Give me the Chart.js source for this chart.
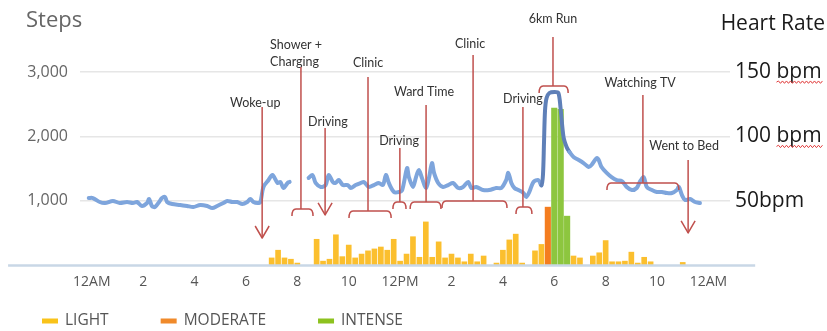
<!DOCTYPE html>
<html><head><meta charset="utf-8">
<script src="https://cdn.jsdelivr.net/npm/chart.js@4.4.1/dist/chart.umd.min.js"></script>
<style>html,body{margin:0;padding:0;background:#fff;}#wrap{width:827px;height:331px;}</style>
</head><body><div id="wrap"><canvas id="c" width="827" height="331"></canvas></div>
<script>
// ---------- DATA ----------
// steps per 15-minute bin, bin k plotted at hour k/4
const binSize = 0.25;
const steps = [
  0,0,0,0,0,0,0,0,0,0,0,0,0,0,0,0,0,0,0,0,0,0,0,0,0,0,0,0,
  110,230,110,90,30,0,0,400,60,90,470,130,310,110,170,220,250,280,230,400,
  60,170,440,120,670,120,360,110,170,110,50,170,50,140,0,30,230,390,480,30,0,
  220,320,900,2440,2420,760,140,110,0,140,190,380,50,50,60,200,30,120,50,
  0,0,0,0,40,0,0,0
];
const moderateBins = [71];
const intenseBins = [72,73,74];
const seriesNames = ['LIGHT','MODERATE','INTENSE'];

// heart rate (bpm) vs hour of day; null = watch off
const hrHours = [-0.12,0.04,0.31,0.51,0.82,1.09,1.37,1.60,1.76,1.95,2.15,2.23,2.34,2.46,2.62,2.73,2.85,2.93,3.13,3.44,3.71,3.95,4.22,4.49,4.69,4.88,5.12,5.27,5.47,5.66,5.86,6.05,6.17,6.29,6.45,6.56,6.68,6.88,7.03,7.23,7.34,7.46,7.62,7.70,8.00,8.44,8.59,8.71,8.91,9.10,9.22,9.38,9.49,9.61,9.77,9.96,10.08,10.27,10.47,10.59,10.78,10.98,11.17,11.33,11.45,11.56,11.76,11.95,12.08,12.27,12.34,12.50,12.62,12.73,12.85,13.01,13.13,13.24,13.32,13.48,13.67,13.87,14.06,14.26,14.45,14.65,14.77,14.96,15.23,15.47,15.74,15.94,16.13,16.21,16.33,16.45,16.60,16.80,16.91,17.03,17.19,17.38,17.50,17.56,17.60,17.64,17.70,17.81,18.01,18.16,18.24,18.36,18.48,18.59,18.75,18.95,19.14,19.34,19.45,19.65,19.73,19.84,20.04,20.23,20.43,20.63,20.82,21.02,21.21,21.33,21.48,21.60,21.80,21.99,22.19,22.38,22.58,22.77,22.85,22.97,23.09,23.28,23.48,23.67];
const hrBpm = [52.1,52.1,49.0,48.2,49.8,48.2,49.0,48.2,49.0,45.9,48.2,51.3,45.9,45.1,49.0,52.1,52.9,49.0,47.4,46.7,45.9,45.1,46.7,45.9,44.3,45.9,48.2,49.8,49.0,49.0,47.4,49.0,51.3,49.0,48.2,49.0,60.7,66.1,70.0,63.8,64.6,59.9,63.8,64.6,null,67.7,70.0,63.8,60.7,62.2,70.0,64.6,63.8,66.1,62.2,62.2,59.9,62.2,63.8,64.6,60.7,62.2,63.8,62.2,70.0,63.8,56.8,56.8,58.3,75.4,68.4,60.7,68.4,73.9,67.7,59.9,68.4,79.3,71.6,63.8,60.7,62.2,63.8,59.9,60.7,64.6,59.9,60.7,58.3,58.3,59.9,59.9,66.1,71.6,63.8,59.9,58.3,56.0,52.9,56.8,64.6,66.1,62.0,70.0,95.0,120.0,129.9,133.8,134.6,133.8,122.9,99.6,91.8,87.9,84.0,81.7,79.3,76.2,77.8,83.2,81.7,76.2,71.6,68.4,66.1,65.3,60.7,58.3,59.9,64.6,68.4,60.7,58.3,56.8,56.8,56.0,56.0,58.3,60.7,54.4,50.6,51.3,49.0,48.2];

const xTickHours = [0,2,4,6,8,10,12,14,16,18,20,22,24];
const xTickLabels = ['12AM','2','4','6','8','10','12PM','2','4','6','8','10','12AM'];
const stepTicks = [1000,2000,3000];
const stepTickLabels = ['1,000','2,000','3,000'];
const hrTicks = [50,100,150];
const hrTickLabels = ['50bpm','100 bpm','150 bpm'];

// annotations: text centre (hour, steps-axis value), stem, and brace or arrow target
const annotations = [
  {text:['Woke-up'], tx:6.36, ty:[2520], stemX:6.63, stemTop:2458, arrow:420},
  {text:['Shower +','Charging'], align:'left', tx:6.94, ty:[3422,3158], stemX:8.14, stemTop:3080, brace:[7.79,8.61,871]},
  {text:['Driving'], tx:9.19, ty:[2224], stemX:9.08, stemTop:2131, arrow:778},
  {text:['Clinic'], tx:10.75, ty:[3142], stemX:10.75, stemTop:2924, brace:[10.01,11.65,840]},
  {text:['Driving'], tx:11.96, ty:[1929], stemX:11.99, stemTop:1820, brace:[11.72,12.23,980]},
  {text:['Ward Time'], tx:12.93, ty:[2691], stemX:13.01, stemTop:2489, brace:[12.39,13.59,980]},
  {text:['Clinic'], tx:14.72, ty:[3438], stemX:14.84, stemTop:3267, brace:[13.63,16.16,996]},
  {text:['Driving'], tx:16.78, ty:[2582], stemX:16.78, stemTop:2458, brace:[16.51,17.13,902]},
  {text:['6km Run'], tx:17.95, ty:[3827], stemX:17.95, stemTop:3547, brace:[17.41,18.54,2784]},
  {text:['Watching TV'], tx:21.34, ty:[2831], stemX:21.45, stemTop:2644, brace:[20.05,22.85,1276]},
  {text:['Went to Bed'], tx:23.05, ty:[1851], stemX:23.21, stemTop:1633, arrow:498}
];

// ---------- STYLE ----------
const colors = {light:'#fbbf2e', moderate:'#f47d20', intense:'#8dc63f', hr:'#7ea5dc', hrRun:'#5f80b8',
  annot:'#c0504d', grid:'#e6e6e6', base:'#c9d7e6'};
const legendColors = ['#f9c31a','#f08a2b','#8dc21f'];
const FONT = 'Open Sans';

const binHours = steps.map((_, i) => i * binSize);
function seriesData(test){ return steps.map((v,i)=>({x:binHours[i], y: test(i) ? v : null})); }
const lightData = seriesData(i => !moderateBins.includes(i) && !intenseBins.includes(i) && steps[i] > 0);
const moderateData = seriesData(i => moderateBins.includes(i));
const intenseData = seriesData(i => intenseBins.includes(i));
const hrData = hrHours.map((h,i)=>({x:h, y:hrBpm[i]}));

function squiggle(ctx, x1, x2, y){
  ctx.beginPath(); ctx.moveTo(x1, y); let up = true;
  for (let x = x1; x < x2; x += 2) { ctx.lineTo(x + 2, y + (up ? -1.2 : 1.2)); up = !up; }
  ctx.stroke();
}

const decor = {
  id:'decor',
  afterDatasetsDraw(chart){
    const {ctx, scales:{x, y}} = chart;
    ctx.save();
    ctx.strokeStyle = colors.base; ctx.lineWidth = 2.5;
    const y0 = y.getPixelForValue(0) + 0.5;
    ctx.beginPath(); ctx.moveTo(x.getPixelForValue(-3.26), y0); ctx.lineTo(x.getPixelForValue(25.82), y0); ctx.stroke();
    ctx.restore();
  },
  afterDraw(chart){
    const {ctx, scales:{x, y, y2}} = chart;
    ctx.save();
    // annotations
    ctx.font = '12.5px Lato'; ctx.fillStyle = '#333'; ctx.textBaseline = 'middle';
    ctx.strokeStyle = colors.annot; ctx.lineWidth = 1.5; ctx.lineJoin = 'round';
    annotations.forEach(a => {
      ctx.textAlign = a.align || 'center';
      a.text.forEach((t, k) => ctx.fillText(t, x.getPixelForValue(a.tx), y.getPixelForValue(a.ty[k])));
      const sx = x.getPixelForValue(a.stemX), st = y.getPixelForValue(a.stemTop);
      if (a.brace) {
        const x1 = x.getPixelForValue(a.brace[0]), x2 = x.getPixelForValue(a.brace[1]), yb = y.getPixelForValue(a.brace[2]);
        ctx.beginPath(); ctx.moveTo(sx, st); ctx.lineTo(sx, yb); ctx.stroke();
        ctx.beginPath(); ctx.moveTo(x1, yb + 7); ctx.quadraticCurveTo(x1, yb, x1 + 4, yb);
        ctx.lineTo(x2 - 4, yb); ctx.quadraticCurveTo(x2, yb, x2, yb + 7); ctx.stroke();
      } else {
        const tip = y.getPixelForValue(a.arrow);
        ctx.beginPath(); ctx.moveTo(sx, st); ctx.lineTo(sx, tip); ctx.stroke();
        ctx.beginPath(); ctx.moveTo(sx - 7, tip - 12); ctx.lineTo(sx, tip); ctx.lineTo(sx + 7, tip - 12); ctx.stroke();
      }
    });
    // titles
    ctx.textBaseline = 'middle';
    ctx.font = '22px ' + FONT; ctx.fillStyle = '#666'; ctx.textAlign = 'left';
    ctx.fillText('Steps', 26, 21);
    ctx.font = '21px ' + FONT; ctx.fillStyle = '#1a1a1a'; ctx.textAlign = 'right';
    ctx.fillText('Heart Rate', 825, 24);
    // spell-check squiggles under "bpm"
    ctx.font = '21px ' + FONT; ctx.strokeStyle = '#e03c3c'; ctx.lineWidth = 1;
    hrTicks.forEach((v, i) => {
      const lbl = hrTickLabels[i]; const sp = lbl.indexOf(' ');
      if (sp < 0) return;
      const left = y2.left + 5;
      const xs = left + ctx.measureText(lbl.slice(0, sp + 1)).width;
      const xe = left + ctx.measureText(lbl).width;
      squiggle(ctx, xs, xe, y2.getPixelForValue(v) + 10);
    });
    // legend
    ctx.font = '15.5px ' + FONT; ctx.fillStyle = '#555'; ctx.textAlign = 'left'; ctx.textBaseline = 'middle';
    let lx = 42; const ly = 321;
    seriesNames.forEach((n, i) => {
      ctx.fillStyle = legendColors[i]; ctx.fillRect(lx, ly - 2.5, 16, 5);
      ctx.fillStyle = '#555'; ctx.fillText(n, lx + 23, ly);
      lx += 23 + ctx.measureText(n).width + 52;
    });
    ctx.restore();
  }
};

new Chart(document.getElementById('c'), {
  type:'bar',
  data:{datasets:[
    {type:'line', label:'Heart Rate', data:hrData, yAxisID:'y2', order:0,
     borderColor:colors.hr, borderWidth:4, pointRadius:0, tension:0.3, spanGaps:false,
     borderCapStyle:'round', borderJoinStyle:'round',
     segment:{borderColor: c => (c.p0.parsed.x >= 17.5 && c.p1.parsed.x <= 18.7) ? colors.hrRun : undefined}},
    {label:seriesNames[0], data:lightData, backgroundColor:colors.light, yAxisID:'y', order:1, grouped:false, barThickness:5},
    {label:seriesNames[1], data:moderateData, backgroundColor:colors.moderate, yAxisID:'y', order:1, grouped:false, barThickness:5.5},
    {label:seriesNames[2], data:intenseData, backgroundColor:colors.intense, yAxisID:'y', order:1, grouped:false, barThickness:5.5}
  ]},
  options:{
    responsive:false, animation:false, devicePixelRatio:1,
    layout:{padding:{top:40, left:0, right:0, bottom:0}},
    plugins:{legend:{display:false}, tooltip:{enabled:false}},
    scales:{
      x:{type:'linear', min:-0.46, max:24.84, offset:false,
         afterBuildTicks: s => { s.ticks = xTickHours.map(v => ({value:v})); },
         afterFit: s => { s.height = 66; },
         grid:{display:false, drawTicks:false, offset:false}, border:{display:false},
         ticks:{autoSkip:false, maxRotation:0, padding:9, color:'#555', font:{family:FONT, size:14},
                callback: v => xTickLabels[xTickHours.indexOf(v)]}},
      y:{position:'left', min:0, max:3500,
         afterBuildTicks: s => { s.ticks = stepTicks.map(v => ({value:v})); },
         afterFit: s => { s.width = 80; },
         grid:{color:colors.grid, lineWidth:1.5, drawTicks:false}, border:{display:false},
         ticks:{padding:12, color:'#666', font:{family:FONT, size:16},
                callback: v => stepTickLabels[stepTicks.indexOf(v)]}},
      y2:{position:'right', min:0, max:175,
         afterBuildTicks: s => { s.ticks = hrTicks.map(v => ({value:v})); },
         afterFit: s => { s.width = 97; },
         grid:{display:false, drawTicks:false}, border:{display:false},
         ticks:{padding:5, color:'#1a1a1a', font:{family:FONT, size:21},
                callback: v => hrTickLabels[hrTicks.indexOf(v)]}}
    }
  },
  plugins:[decor]
});
</script></body></html>
